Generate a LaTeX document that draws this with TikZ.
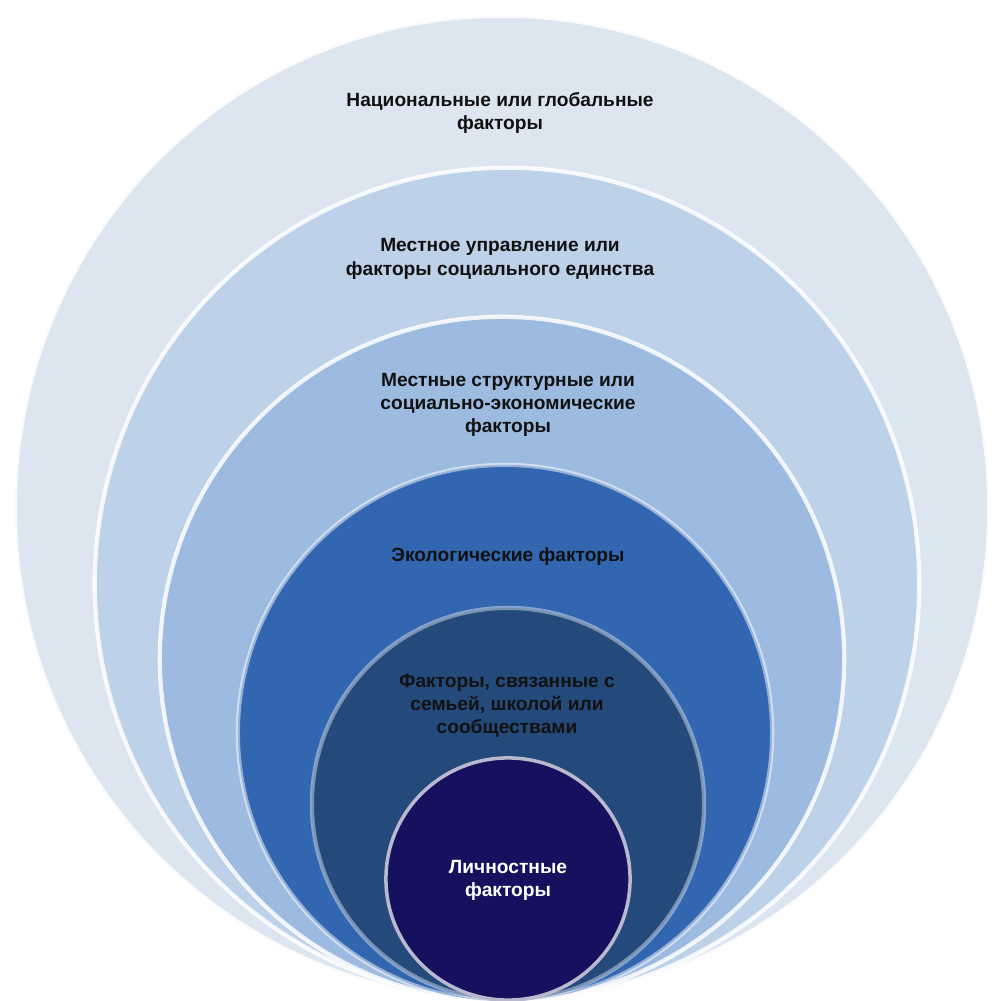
\documentclass[tikz,border=0pt]{standalone}
\usepackage{fontspec}
\setmainfont{Liberation Sans}
\definecolor{c1}{HTML}{DCE6F1}
\definecolor{c2}{HTML}{BDD1E9}
\definecolor{c3}{HTML}{9DBBE0}
\definecolor{c4}{HTML}{3266B0}
\definecolor{c5}{HTML}{244A7B}
\definecolor{c6}{HTML}{16115E}
\definecolor{txt}{HTML}{111111}
\begin{document}
\begin{tikzpicture}[x=0.01cm,y=-0.01cm,
  ring/.style={draw=white,line width=1.2pt,draw opacity=0.85},
  lab/.style={align=center,font=\bfseries\fontsize{5.45}{6.6}\selectfont,text=txt,inner sep=0pt}]
\useasboundingbox[fill=white] (0,0) rectangle (994,1001);
\path[ring,fill=c1] (502,508) ellipse [x radius=4.87cm,y radius=4.92cm];
\path[ring,fill=c2] (507,584) ellipse [x radius=4.12cm,y radius=4.16cm];
\path[ring,fill=c3] (502,659) ellipse [x radius=3.42cm,y radius=3.42cm];
\path[ring,draw opacity=0.5,fill=c4] (505,733) ellipse [x radius=2.67cm,y radius=2.68cm];
\path[ring,draw opacity=0.4,fill=c5] (508,804) ellipse [x radius=1.96cm,y radius=1.96cm];
\path[draw=white!70!c6,line width=1pt,fill=c6] (508,879) ellipse [x radius=1.22cm,y radius=1.21cm];
\node[lab] (t1) at (500,113) {Национальные или глобальные\\факторы};
\node[lab] (t2) at (500,259) {Местное управление или\\факторы социального единства};
\node[lab] (t3) at (508,405) {Местные структурные или\\социально-экономические\\факторы};
\node[lab] (t4) at (508,557) {Экологические факторы};
\node[lab] (t5) at (507,706) {Факторы, связанные с\\семьей, школой или\\сообществами};
\node[lab,text=white] (t6) at (508,880) {Личностные\\факторы};
\end{tikzpicture}
\end{document}
